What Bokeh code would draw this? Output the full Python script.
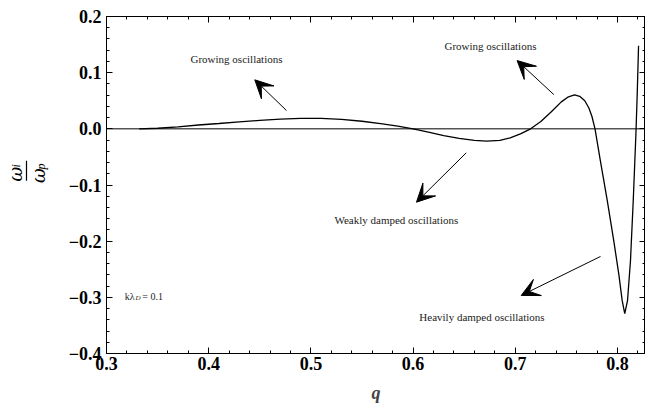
import numpy as np
from bokeh.plotting import figure
from bokeh.layouts import row
from bokeh.models import (FixedTicker, CustomJSTickFormatter, LinearAxis, Span,
                          Label, Arrow, VeeHead, Range1d)
from bokeh.core.properties import value
from bokeh.embed import file_html
from bokeh.resources import INLINE

# Imaginary part of the frequency, normalised to the plasma frequency, against q
q = [0.332, 0.35, 0.37, 0.39, 0.41, 0.43, 0.45, 0.47, 0.49, 0.51, 0.53, 0.55,
     0.57, 0.585, 0.60, 0.615, 0.63, 0.645, 0.66, 0.672, 0.685, 0.695, 0.705,
     0.715, 0.725, 0.735, 0.745, 0.752, 0.758, 0.763, 0.768, 0.772, 0.775,
     0.778, 0.7833, 0.790, 0.7964, 0.8013, 0.8046, 0.8071, 0.8098, 0.8127,
     0.8154, 0.818, 0.8193, 0.8206]
omega_i = [0.0, 0.001, 0.0035, 0.0068, 0.0095, 0.0125, 0.015, 0.0172, 0.0186,
           0.0186, 0.0168, 0.0135, 0.009, 0.005, 0.0, -0.006, -0.012, -0.017,
           -0.0205, -0.022, -0.0205, -0.016, -0.009, 0.0, 0.013, 0.030, 0.048,
           0.057, 0.0605, 0.058, 0.050, 0.037, 0.022, 0.0, -0.0575, -0.128,
           -0.200, -0.259, -0.306, -0.329, -0.306, -0.235, -0.128, -0.010,
           0.062, 0.148]

x_major = [0.3, 0.4, 0.5, 0.6, 0.7, 0.8]
y_major = [-0.4, -0.3, -0.2, -0.1, 0.0, 0.1, 0.2]
x_minor = [round(0.3 + 0.02 * k, 2) for k in range(27)]
y_minor = [round(-0.4 + 0.02 * k, 2) for k in range(31)]

SERIF = "Liberation Serif"
GREEK = "DejaVu Serif"
HEIGHT = 409
TITLE_W = 60

# ---------------------------------------------------------------- main panel
p = figure(frame_width=539, frame_height=337, output_backend="svg",
           toolbar_location=None, x_axis_location=None, y_axis_location=None,
           min_border_left=106 - TITLE_W, min_border_top=16, min_border_right=0,
           min_border_bottom=20)
p.x_range = Range1d(0.3, 0.8274)
p.y_range = Range1d(-0.4, 0.2)
p.grid.visible = False
p.outline_line_color = "black"
p.background_fill_color = "white"

fmt = CustomJSTickFormatter(code="""
    const s = Math.abs(tick).toFixed(1);
    return tick < -1e-9 ? "\\u2212" + s : s;
""")
blank = CustomJSTickFormatter(code='return "";')


def style(ax, labels):
    ax.axis_line_color = "black"
    ax.major_tick_in = 6
    ax.major_tick_out = 0
    ax.minor_tick_in = 3
    ax.minor_tick_out = 0
    ax.major_tick_line_color = "black"
    ax.minor_tick_line_color = "black"
    if labels:
        ax.formatter = fmt
        ax.major_label_text_font = SERIF
        ax.major_label_text_font_style = "bold"
        ax.major_label_text_font_size = "18px"
        ax.major_label_text_color = "black"
    else:
        ax.formatter = blank
        ax.major_label_standoff = 0


xt = FixedTicker(ticks=x_major, minor_ticks=x_minor)
yt = FixedTicker(ticks=y_major, minor_ticks=y_minor)

bottom = LinearAxis(ticker=xt, axis_label="q")
style(bottom, True)
bottom.major_label_standoff = 3
bottom.axis_label_text_font = SERIF
bottom.axis_label_text_font_style = "bold italic"
bottom.axis_label_text_font_size = "18px"
bottom.axis_label_standoff = 10
p.add_layout(bottom, "below")

top = LinearAxis(ticker=xt)
style(top, False)
p.add_layout(top, "above")

left = LinearAxis(ticker=yt)
style(left, True)
left.major_label_standoff = 5
p.add_layout(left, "left")

right = LinearAxis(ticker=yt)
style(right, False)
p.add_layout(right, "right")

p.add_layout(Span(location=0, dimension="width", line_color="black", line_width=1))

p.line(q, omega_i, line_color="black", line_width=1.3)


def note(x, y, text, size="11px", align="center", style="normal"):
    p.add_layout(Label(x=x, y=y, text=text, text_font=SERIF,
                       text_font_size=size, text_font_style=style,
                       text_color="#222222", text_align=align,
                       text_baseline="middle"))


note(0.4272, 0.1246, "Growing oscillations")
note(0.6757, 0.147, "Growing oscillations")
note(0.5836, -0.163, "Weakly damped oscillations")
note(0.6674, -0.3345, "Heavily damped oscillations")

note(0.3178, -0.298, "k\u03bb", size="10px", align="left")
note(0.3284, -0.3015, "D", size="7px", align="left", style="italic")
note(0.3350, -0.298, "= 0.1", size="10px", align="left")

arrows = [
    (0.4761, 0.0326, 0.4451, 0.0872),
    (0.7377, 0.0610, 0.7018, 0.1215),
    (0.6520, -0.0427, 0.6033, -0.1306),
    (0.7834, -0.2272, 0.7058, -0.2966),
]
for xs, ys, xe, ye in arrows:
    p.add_layout(Arrow(x_start=xs, y_start=ys, x_end=xe, y_end=ye,
                       line_color="black", line_width=1,
                       end=VeeHead(size=18, fill_color="black",
                                   line_color="black", line_width=1)))

# ------------------------------------------- vertical title: omega_i / omega_p
t = figure(width=TITLE_W, height=HEIGHT, output_backend="svg",
           toolbar_location=None, x_axis_location=None, y_axis_location=None,
           min_border=0, x_range=Range1d(0, TITLE_W), y_range=Range1d(0, HEIGHT))
t.grid.visible = False
t.outline_line_color = None

half_pi = np.pi / 2
t.text(x=[15, 38], y=[HEIGHT - 189, HEIGHT - 191], text=["\u03c9", "\u03c9"],
       angle=half_pi, text_align="center", text_baseline="middle",
       text_font=value(GREEK), text_font_style="italic",
       text_font_size="18px", text_color="black")
t.text(x=[15, 40], y=[HEIGHT - 179, HEIGHT - 180], text=["i", "p"],
       angle=half_pi, text_align="center", text_baseline="middle",
       text_font=value(SERIF), text_font_style="italic",
       text_font_size="12px", text_color="black")
t.segment(x0=[26], y0=[HEIGHT - 173], x1=[26], y1=[HEIGHT - 197],
          line_color="black", line_width=1.2)

layout = row(t, p, spacing=0)
open("out.html", "w").write(file_html(layout, INLINE))
